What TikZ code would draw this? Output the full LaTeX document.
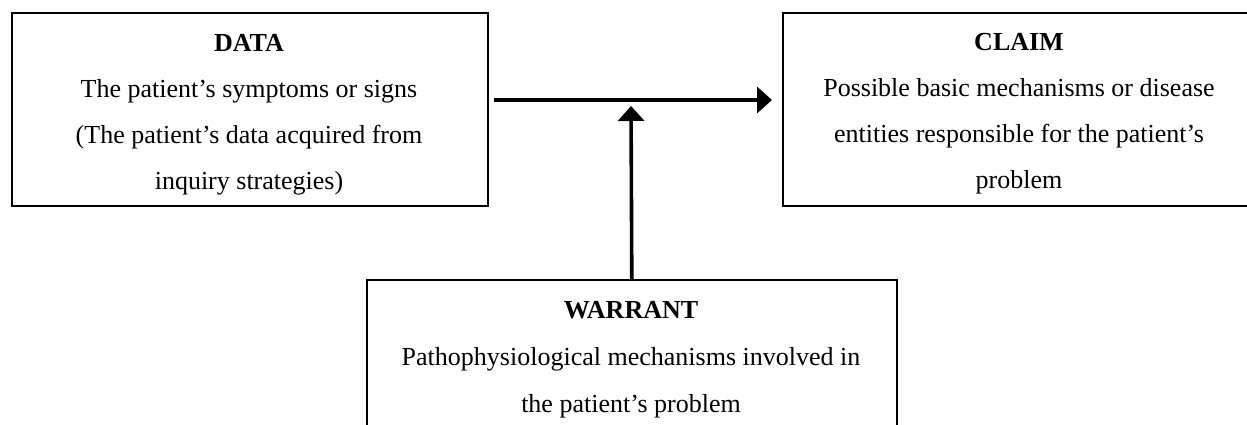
\documentclass[tikz,border=0pt]{standalone}
\usepackage{fontspec}
\setmainfont{Liberation Serif}
\usetikzlibrary{arrows.meta}
\begin{document}
\begin{tikzpicture}[x=1pt,y=-1pt,
  box/.style={draw=black,line width=1.6pt,rectangle,inner sep=0pt,anchor=north west},
  boxtext/.style={anchor=base,align=center,inner sep=0pt,font=\fontsize{26}{46}\selectfont},
  link/.style={line width=3.6pt,-{Triangle[length=15pt,width=26pt]}}]
\useasboundingbox (0,0) rectangle (1247,425);
\clip (0,0) rectangle (1247,425);
\fill[white] (0,0) rectangle (1247,425);
% the three boxes
\node[box,minimum width=476pt,minimum height=193pt] (data) at (11,12) {};
\node[box,minimum width=474pt,minimum height=193pt] (claim) at (782,12) {};
\node[box,minimum width=530pt,minimum height=200pt] (warrant) at (366,279) {};
% their texts (placed by the baseline of the last line)
\node[boxtext] (datatext) at (249,189)
  {\textbf{DATA}\\The patient’s symptoms or signs\\(The patient’s data acquired from\\inquiry strategies)};
\node[boxtext] (claimtext) at (1019,188)
  {\textbf{CLAIM}\\Possible basic mechanisms or disease\\entities responsible for the patient’s\\problem};
\node[boxtext,font=\fontsize{26}{47}\selectfont] (warranttext) at (631,412)
  {\textbf{WARRANT}\\Pathophysiological mechanisms involved in\\the patient’s problem};
% connectors
\coordinate (join) at (631,100);
\draw[link,shorten <=5pt,shorten >=10pt] (data.east |- join) -- (claim.west |- join);
\draw[link,shorten >=6pt] (warrant.north) -- (join);
\end{tikzpicture}
\end{document}
